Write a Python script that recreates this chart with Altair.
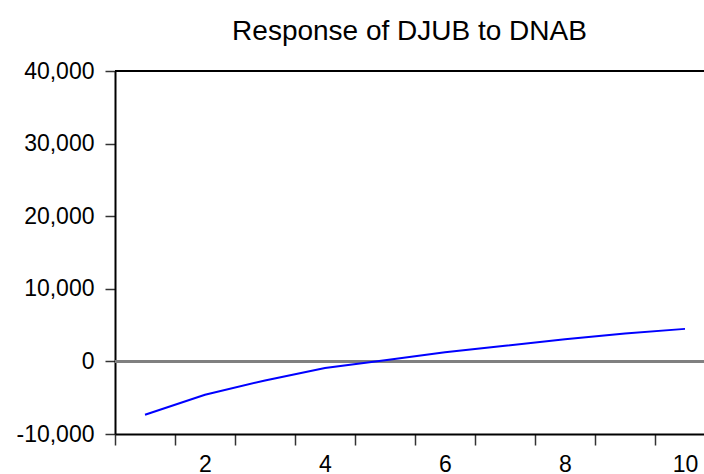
import altair as alt
import pandas as pd

periods = [1, 2, 3, 4, 5, 6, 7, 8, 9, 10]
response = [-7350, -4600, -2620, -920, 170, 1270, 2160, 3060, 3850, 4480]

y_ticks = [-10000, 0, 10000, 20000, 30000, 40000]
x_tick_values = [0.5, 1.5, 2, 2.5, 3.5, 4, 4.5, 5.5, 6, 6.5, 7.5, 8, 8.5, 9.5, 10]

df = pd.DataFrame({"period": periods, "response": response})

W = 589
H = 363
FONT = "Liberation Sans"

x_scale = alt.Scale(domain=[0.5, 0.5 + W / 60.0], nice=False, zero=False)
y_scale = alt.Scale(domain=[-10000, 40000], nice=False)

line = alt.Chart(df).mark_line(color="#0000FF", strokeWidth=2).encode(
    x=alt.X(
        "period:Q",
        scale=x_scale,
        axis=alt.Axis(
            values=x_tick_values,
            title=None,
            grid=False,
            domainColor="#000000",
            domainWidth=2,
            tickColor="#333333",
            tickSize=11,
            tickWidth=1.5,
            tickOpacity={"condition": {"test": "datum.value % 1 === 0", "value": 0}, "value": 1},
            labelExpr="(datum.value % 2 === 0) ? datum.value : ''",
            labelFont=FONT,
            labelFontSize=23,
            labelColor="#000000",
            labelPadding=8,
            labelFlush=False,
            labelOverlap=False,
        ),
    ),
    y=alt.Y(
        "response:Q",
        scale=y_scale,
        axis=alt.Axis(
            values=y_ticks,
            title=None,
            grid=False,
            domainColor="#000000",
            domainWidth=2,
            tickColor="#333333",
            tickSize=10,
            tickWidth=1.5,
            labelExpr="datum.value < 0 ? '-' + format(-datum.value, ',.0f') : format(datum.value, ',.0f')",
            labelFont=FONT,
            labelFontSize=23,
            labelColor="#000000",
            labelPadding=11,
            labelOverlap=False,
        ),
    ),
)

zero_rule = alt.Chart(df).mark_rule(color="#808080", strokeWidth=2).encode(
    y=alt.datum(0, scale=y_scale)
)

top_rule = alt.Chart(df).mark_rule(color="#000000", strokeWidth=2).encode(
    x=alt.value(0), x2=alt.value(W), y=alt.value(0)
)

chart = (
    alt.layer(zero_rule, line, top_rule)
    .properties(
        width=W,
        height=H,
        autosize=alt.AutoSizeParams(type="none"),
        padding={"left": 115, "top": 71, "right": 0, "bottom": 39},
        title=alt.TitleParams(
            "Response of DJUB to DNAB",
            font=FONT,
            fontSize=28,
            fontWeight="normal",
            color="#000000",
            anchor="middle",
            offset=14,
        ),
    )
    .configure_view(stroke=None)
    .configure(background="#FFFFFF")
)

chart.save("out.html", embed_options={"renderer": "svg", "actions": False})
